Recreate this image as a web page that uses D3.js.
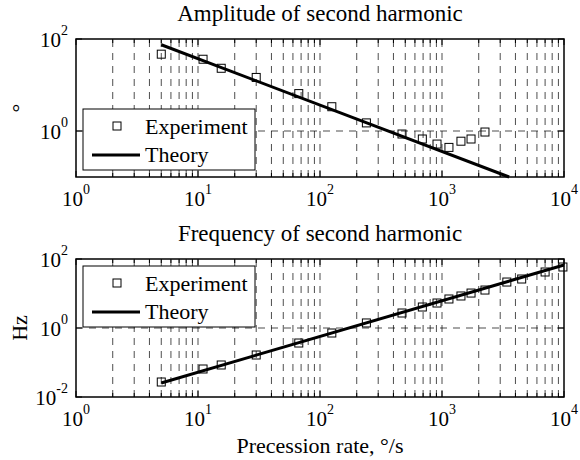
<!DOCTYPE html>
<html><head><meta charset="utf-8">
<script src="https://cdn.jsdelivr.net/npm/d3@7"></script>
<style>body{margin:0;background:#fff}</style>
</head><body><svg id="c" width="580" height="460"></svg>
<script>
// ---- data ----
const expRate   = [5, 11, 15.5, 30, 67, 125, 240, 470, 690, 910, 1140, 1430, 1730, 2250, 3400, 4500, 7000, 9800];
const ampExp    = [46.8, 36.3, 23.1, 14.6, 6.5, 3.37, 1.5, 0.86, 0.67, 0.52, 0.44, 0.6, 0.67, 0.95];
const freqExp   = [0.0272, 0.0648, 0.0847, 0.165, 0.367, 0.716, 1.4, 2.72, 4.06, 5.3, 6.93, 8.47, 10.3, 12.6, 21.5, 26.3, 42, 58.6];
const ampTheoryRate  = [5, 3550];
const ampTheory      = [75, 0.1];
const freqTheoryRate = [5, 10000];
const freqTheory     = [0.0255, 67];
const xTickExps = [0, 1, 2, 3, 4];
const titles = ["Amplitude of second harmonic", "Frequency of second harmonic"];
const yLabels = ["°", "Hz"];
const xLabel = "Precession rate, °/s";
const legendLabels = ["Experiment", "Theory"];

const svg = d3.select("#c");
const FONT = "'Liberation Serif','Times New Roman',serif";
const x = d3.scaleLog().domain([1, 1e4]).range([76, 564]);

const panels = [
  {top: 39, bottom: 177, ydom: [0.1, 100], yTickExps: [0, 2], title: titles[0], ylab: yLabels[0],
   ex: expRate.slice(0, ampExp.length), ey: ampExp, tx: ampTheoryRate, ty: ampTheory, legY: 109},
  {top: 259, bottom: 397, ydom: [0.01, 100], yTickExps: [-2, 0, 2], title: titles[1], ylab: yLabels[1],
   ex: expRate, ey: freqExp, tx: freqTheoryRate, ty: freqTheory, legY: 266}
];

const x0 = x.range()[0], x1 = x.range()[1];
const gridX = [];
for (let k = 0; k < 4; k++) for (let m = 1; m <= 9; m++) { const v = m * Math.pow(10, k); if (v > 1) gridX.push(v); }

panels.forEach(p => {
  const y = d3.scaleLog().domain(p.ydom).range([p.bottom, p.top]);
  const g = svg.append("g");
  // grid
  g.selectAll(".gx").data(gridX).enter().append("line")
    .attr("x1", d => x(d)).attr("x2", d => x(d)).attr("y1", p.bottom).attr("y2", p.top)
    .attr("stroke", "#000").attr("stroke-width", 0.7).attr("stroke-dasharray", "7,6");
  const hy = p.yTickExps.map(e => Math.pow(10, e)).filter(v => v > p.ydom[0] && v < p.ydom[1]);
  g.selectAll(".gy").data(hy).enter().append("line")
    .attr("x1", x0).attr("x2", x1).attr("y1", d => y(d)).attr("y2", d => y(d))
    .attr("stroke", "#000").attr("stroke-width", 0.7).attr("stroke-dasharray", "7,6");
  // theory
  const line = d3.line().x(d => x(d[0])).y(d => y(d[1]));
  g.append("path").datum(p.tx.map((v, i) => [v, p.ty[i]])).attr("d", line)
    .attr("fill", "none").attr("stroke", "#000").attr("stroke-width", 3);
  // experiment
  const s = 8;
  g.selectAll(".sq").data(p.ex.map((v, i) => [v, p.ey[i]])).enter().append("rect")
    .attr("x", d => x(d[0]) - s / 2).attr("y", d => y(d[1]) - s / 2).attr("width", s).attr("height", s)
    .attr("fill", "none").attr("stroke", "#000").attr("stroke-width", 1);
  // frame
  g.append("rect").attr("x", x0).attr("y", p.top).attr("width", x1 - x0).attr("height", p.bottom - p.top)
    .attr("fill", "none").attr("stroke", "#000").attr("stroke-width", 1.5);
  // x ticks
  const xt = [];
  for (let k = 0; k < 4; k++) for (let m = 1; m <= 9; m++) xt.push({v: m * Math.pow(10, k), major: m === 1});
  xt.push({v: 1e4, major: true});
  xt.forEach(t => {
    const L = t.major ? 6 : 4;
    g.append("line").attr("x1", x(t.v)).attr("x2", x(t.v)).attr("y1", p.bottom).attr("y2", p.bottom - L).attr("stroke", "#000").attr("stroke-width", 1);
    g.append("line").attr("x1", x(t.v)).attr("x2", x(t.v)).attr("y1", p.top).attr("y2", p.top + L).attr("stroke", "#000").attr("stroke-width", 1);
  });
  // x tick labels
  xTickExps.forEach(e => {
    const t = g.append("text").attr("x", x(Math.pow(10, e))).attr("y", p.bottom + 29)
      .attr("text-anchor", "middle").attr("font-family", FONT).attr("font-size", 21);
    t.append("tspan").text("10");
    t.append("tspan").attr("dy", -12).attr("font-size", 14).text(String(e));
  });
  // y ticks + labels
  p.yTickExps.forEach(e => {
    const yy = y(Math.pow(10, e));
    g.append("line").attr("x1", x0).attr("x2", x0 + 6).attr("y1", yy).attr("y2", yy).attr("stroke", "#000").attr("stroke-width", 1);
    g.append("line").attr("x1", x1).attr("x2", x1 - 6).attr("y1", yy).attr("y2", yy).attr("stroke", "#000").attr("stroke-width", 1);
    const t = g.append("text").attr("x", x0 - 8).attr("y", yy + 8)
      .attr("text-anchor", "end").attr("font-family", FONT).attr("font-size", 21);
    t.append("tspan").text("10");
    t.append("tspan").attr("dy", -12).attr("font-size", 14).text(String(e));
  });
  // title
  g.append("text").attr("x", (x0 + x1) / 2).attr("y", p.top - 18).attr("text-anchor", "middle")
    .attr("font-family", FONT).attr("font-size", 23).text(p.title);
  // y label
  g.append("text").attr("transform", `translate(27,${(p.top + p.bottom) / 2}) rotate(-90)`)
    .attr("text-anchor", "middle").attr("font-family", FONT).attr("font-size", 22).text(p.ylab);
  // legend
  const lg = g.append("g").attr("transform", `translate(83,${p.legY})`);
  lg.append("rect").attr("width", 172).attr("height", 61).attr("fill", "#fff").attr("stroke", "#000").attr("stroke-width", 1);
  lg.append("rect").attr("x", 34 - s / 2).attr("y", 17 - s / 2).attr("width", s).attr("height", s)
    .attr("fill", "none").attr("stroke", "#000").attr("stroke-width", 1);
  lg.append("text").attr("x", 62).attr("y", 25).attr("font-family", FONT).attr("font-size", 22).text(legendLabels[0]);
  lg.append("line").attr("x1", 9).attr("x2", 57).attr("y1", 46).attr("y2", 46).attr("stroke", "#000").attr("stroke-width", 3);
  lg.append("text").attr("x", 62).attr("y", 53).attr("font-family", FONT).attr("font-size", 22).text(legendLabels[1]);
});

svg.append("text").attr("x", (x0 + x1) / 2).attr("y", 453).attr("text-anchor", "middle")
  .attr("font-family", FONT).attr("font-size", 22).text(xLabel);
</script></body></html>
